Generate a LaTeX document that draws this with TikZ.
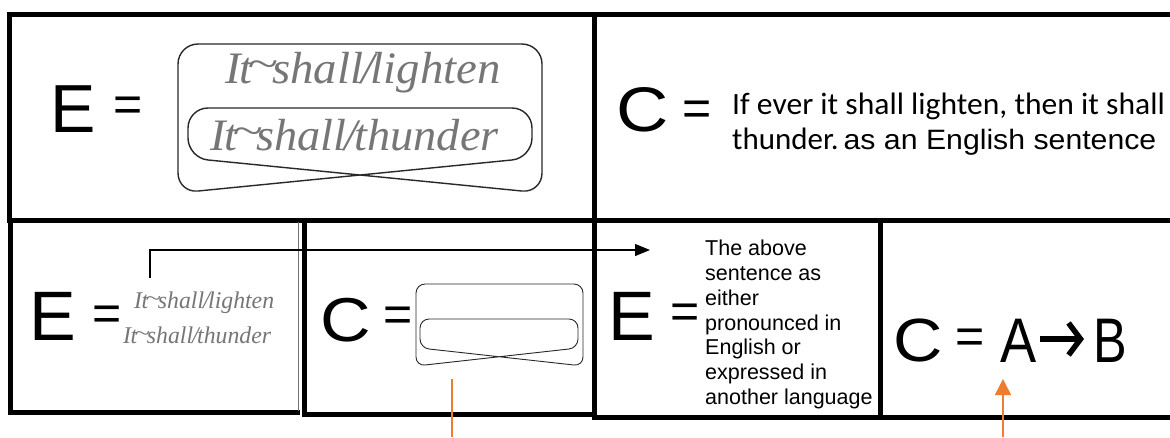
\documentclass[tikz,border=0pt]{standalone}
\usepackage{fontspec}
\setmainfont{Liberation Sans}
\newfontfamily\carlito{Carlito}
\newfontfamily\serifit{Liberation Serif}
\usetikzlibrary{arrows.meta}
\definecolor{txtgray}{RGB}{118,118,118}
\definecolor{orng}{RGB}{237,125,49}
\definecolor{loopc}{RGB}{40,40,40}
\newcommand{\hs}[2]{\scalebox{#1}[1]{#2}}
\newcommand{\itsh}[1]{\itshape I\kern-0.02em t\kern-0.12em\raisebox{0.12em}{\scalebox{1.2}[0.9]{\textasciitilde}}\kern-0.12em shall\kern-0.04em/\kern-0.07em #1}
\begin{document}
\begin{tikzpicture}[x=1pt,y=-1pt,
  frame/.style={line width=5pt},
  thinframe/.style={line width=0.8pt, draw=black!55},
  loopline/.style={draw=loopc, line width=1.4pt},
  loopsmall/.style={draw=loopc, line width=0.9pt},
  gtxt/.style={text=txtgray, inner sep=0pt, anchor=base west},
  bigletter/.style={inner sep=0pt, anchor=base, font=\fontsize{70}{72}\selectfont},
  eqsign/.style={inner sep=0pt, anchor=base, font=\fontsize{50}{52}\selectfont},
  orngline/.style={draw=orng, line width=1.6pt},
  blackarrow/.style={draw=black, line width=1.2pt, -{Triangle[length=15pt,width=12pt]}},
  fatarrow/.style={draw=black, line width=5.5pt, -{Straight Barb[length=12pt,width=32pt]}}
]
\useasboundingbox (0,0) rectangle (1170,437);
\fill[white] (0,0) rectangle (1170,437);

% ---- frames ----
\draw[frame] (6.5,14.5) -- (1170,14.5);
\draw[frame] (9,12) -- (9,222);
\draw[frame] (6.5,220.5) -- (1170,220.5);
\draw[frame] (10.5,218) -- (10.5,414.5);
\draw[frame] (8,412.5) -- (300,412.5);
\draw[thinframe] (298,222) -- (298,411);
\draw[frame] (304,218) -- (304,417);
\draw[frame] (301.5,414.5) -- (594.5,414.5);
\draw[frame] (594.5,12) -- (594.5,420);
\draw[frame] (592,417.5) -- (1170,417.5);
\draw[frame] (880,218) -- (880,420);
\draw[thinframe, draw=black] (306,250) -- (592,250);

% ---- top-left panel ----
\node[bigletter, font=\fontsize{68}{70}\selectfont] (E1) at (73,132) {E};
\node[eqsign] (eq1) at (128.5,121.5) {=};
\draw[loopline, rounded corners=20pt] (178,118) -- (178,44) -- (542,44) -- (542,193)
  -- (188,158) -- (188,108) -- (532,108) -- (532,158) -- (178,193) -- cycle;
\node[gtxt, font=\serifit\fontsize{45}{50}\selectfont] (lt1) at (225,83) {\hs{1.04}{\itsh{lighten}}};
\node[gtxt, font=\serifit\fontsize{45}{50}\selectfont] (th1) at (210,150) {\hs{1.03}{\itsh{thunder}}};

% ---- top-right panel ----
\node[bigletter, font=\fontsize{63}{65}\selectfont] (C1) at (643,131) {\hs{1.15}{C}};
\node[eqsign] (eq2) at (697.5,125.5) {=};
\node[inner sep=0pt, anchor=base west, font=\carlito\fontsize{31}{34}\selectfont] (s1) at (732,114)
  {\hs{1.02}{If ever it shall lighten, then it shall}};
\node[inner sep=0pt, anchor=base west, font=\fontsize{28}{34}\selectfont] (s2) at (732,149)
  {\hs{1.0}{\carlito\fontsize{31}{34}\selectfont thunder.}\hspace{5pt}\hs{1.08}{as an English sentence}};

% ---- bottom panel 1 ----
\node[bigletter] (E2) at (52.5,340) {E};
\node[eqsign] (eq3) at (107.5,330.5) {=};
\node[gtxt, font=\serifit\fontsize{24}{26}\selectfont] (lt2) at (134,308) {\hs{0.99}{\itsh{lighten}}};
\node[gtxt, font=\serifit\fontsize{24}{26}\selectfont] (th2) at (123,343) {\hs{0.99}{\itsh{thunder}}};
\coordinate (arS) at (150,278);
\coordinate (arE) at (650,250);
\draw[blackarrow] (arS) |- (arE);

% ---- bottom panel 2 ----
\node[bigletter, font=\fontsize{62}{64}\selectfont] (C2) at (345.5,341) {\hs{1.13}{C}};
\node[eqsign] (eq4) at (398,331.5) {=};
\draw[loopsmall, rounded corners=9pt] (416,325) -- (416,284) -- (583,284) -- (583,366)
  -- (420,348) -- (420,319) -- (578,319) -- (578,348) -- (416,366) -- cycle;
\coordinate (oS) at (452,379);
\coordinate (oE) at (452,437);
\draw[orngline] (oS) -- (oE);

% ---- bottom panel 3 ----
\node[bigletter] (E3) at (632,340) {E};
\node[eqsign] (eq5) at (685.5,328.5) {=};
\node[inner sep=0pt, anchor=north west, align=left, font=\fontsize{21.5}{24.8}\selectfont] (desc) at (705,240)
  {The above\\sentence as\\either\\pronounced in\\English or\\expressed in\\another language};

% ---- bottom panel 4 ----
\node[bigletter, font=\fontsize{61}{63}\selectfont] (C3) at (918.5,361) {\hs{1.12}{C}};
\node[eqsign] (eq6) at (970.5,353) {=};
\node[bigletter, font=\fontsize{63}{65}\selectfont] (A) at (1019,362) {\hs{0.86}{A}};
\node[bigletter, font=\fontsize{63}{65}\selectfont] (B) at (1110,362) {\hs{0.8}{B}};
\draw[fatarrow] ([shift={(3,-23)}]A.base east) -- ([shift={(-9,-23)}]B.base west);
\coordinate (oaS) at (1003,437);
\coordinate (oaE) at (1003,379);
\draw[orngline, -{Triangle[length=16pt,width=16pt]}] (oaS) -- (oaE);
\end{tikzpicture}
\end{document}
